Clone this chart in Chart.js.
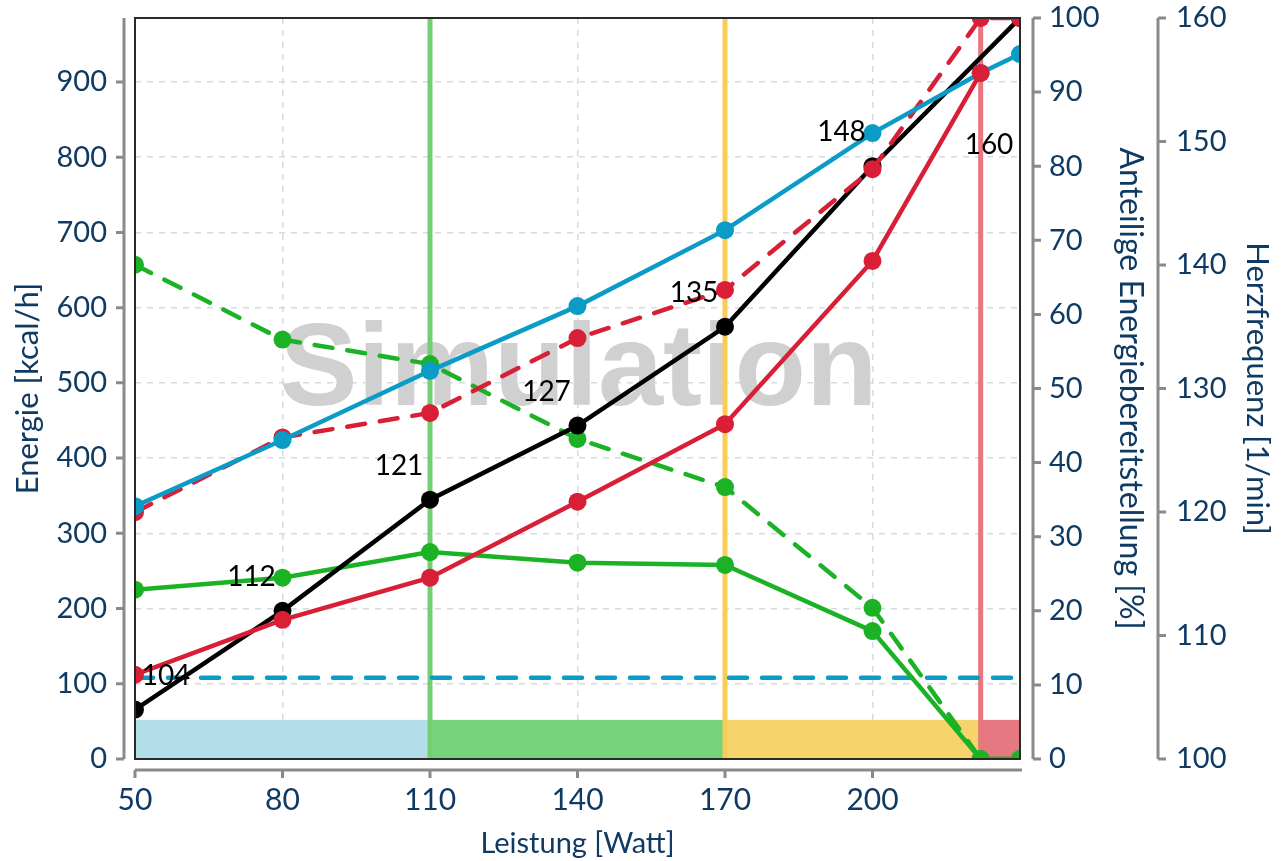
<!DOCTYPE html>
<html>
<head>
<meta charset="utf-8">
<script src="https://cdn.jsdelivr.net/npm/chart.js@4.4.1/dist/chart.umd.min.js"></script>
<style>
html, body { margin: 0; padding: 0; background: #fff; }
#wrap { width: 1282px; height: 861px; }
</style>
</head>
<body>
<div id="wrap"><canvas id="myChart"></canvas></div>
<script>
// Leistung in Watt
const power = [50, 80, 110, 140, 170, 200, 222, 230];
// kcal/h
const energyTotal = [336, 424, 516, 602, 703, 832, 912, 937];
const energyCarb = [112, 185, 241, 342, 445, 662, 912, null];
const energyFat = [225, 241, 275, 261, 258, 170, 0, 0];
// Anteil in %
const shareCarb = [33.3, 43.4, 46.7, 56.8, 63.3, 79.6, 100, 100];
const shareFat = [66.7, 56.6, 53.3, 43.2, 36.7, 20.4, 0, 0];
// Herzfrequenz 1/min
const heartRate = [104, 112, 121, 127, 135, 148, null, 160];
const restEnergy = 108;

// Zonen
const zoneStart = [50, 110, 170, 222];
const zoneEnd = [110, 170, 222, 230];
const zoneColors = ['#b2dfea', '#76d37c', '#f7d46b', '#e67882'];
const zoneLines = [110, 170, 222];
const zoneLineColors = ['#72cf72', '#f9cd55', '#e8777f'];
const zoneBand = 52;

const xTicks = [50, 80, 110, 140, 170, 200];
const energyTicks = [0, 100, 200, 300, 400, 500, 600, 700, 800, 900];
const shareTicks = [0, 10, 20, 30, 40, 50, 60, 70, 80, 90, 100];
const hrTicks = [100, 110, 120, 130, 140, 150, 160];

const navy = '#0f3a63';
const cyan = '#0a9bc7';
const red = '#d81f36';
const green = '#1bb226';
const axisGray = '#8a8a8a';

function pts(ys) {
    return power.map((x, i) => ({ x: x, y: ys[i] })).filter(p => p.y !== null);
}

function setTicks(list) {
    return function (scale) {
        scale.ticks = list.map(v => ({ value: v }));
    };
}

// fixed box sizes, no extra label padding around the plot
function fixWidth(w) {
    return function (s) {
        s.width = w;
        s.paddingTop = 0;
        s.paddingBottom = 0;
    };
}

const zonesPlugin = {
    id: 'zones',
    beforeDatasetsDraw(chart) {
        const { ctx, chartArea: a, scales: { x, y } } = chart;
        ctx.save();
        ctx.beginPath();
        ctx.rect(a.left, a.top, a.right - a.left, a.bottom - a.top);
        ctx.clip();

        // watermark
        ctx.font = 'bold 117px "Liberation Sans", Arial, sans-serif';
        ctx.fillStyle = '#d0d0d0';
        ctx.textAlign = 'center';
        ctx.textBaseline = 'alphabetic';
        ctx.fillText('Simulation', (a.left + a.right) / 2 + 1, a.top + 387);

        // zone bands at the bottom
        const top = y.getPixelForValue(zoneBand);
        zoneStart.forEach((s, i) => {
            const x0 = x.getPixelForValue(s);
            const x1 = x.getPixelForValue(zoneEnd[i]);
            ctx.fillStyle = zoneColors[i];
            ctx.fillRect(x0, top, x1 - x0, a.bottom - top);
        });

        // zone lines
        ctx.lineWidth = 5;
        zoneLines.forEach((v, i) => {
            const px = x.getPixelForValue(v);
            ctx.strokeStyle = zoneLineColors[i];
            ctx.beginPath();
            ctx.moveTo(px, a.top);
            ctx.lineTo(px, a.bottom);
            ctx.stroke();
        });
        ctx.restore();
    },
    afterDatasetsDraw(chart) {
        const { ctx, chartArea: a } = chart;
        ctx.save();
        // heart rate labels
        const meta = chart.getDatasetMeta(3);
        const vals = heartRate.filter(v => v !== null);
        ctx.font = '28px Lato';
        ctx.fillStyle = '#000';
        ctx.textAlign = 'center';
        ctx.textBaseline = 'middle';
        meta.data.forEach((pt, i) => {
            let lx = pt.x - 31;
            let ly = pt.y - 34;
            if (lx - 20 < a.left) lx = pt.x + 31;
            if (ly - 10 < a.top) ly = pt.y + 127;
            ctx.fillText(String(vals[i]), lx, ly);
        });

        // frame
        ctx.strokeStyle = '#2a2a2a';
        ctx.lineWidth = 2;
        ctx.strokeRect(a.left, a.top, a.right - a.left, a.bottom - a.top);
        ctx.restore();
    },
    afterDraw(chart) {
        const { ctx, chartArea: a, scales } = chart;
        ctx.save();
        ctx.strokeStyle = axisGray;
        ctx.lineWidth = 3;
        ctx.lineCap = 'butt';

        function vAxis(px, scale, list, dir) {
            ctx.beginPath();
            ctx.moveTo(px, a.top);
            ctx.lineTo(px, a.bottom);
            list.forEach(v => {
                const py = scale.getPixelForValue(v);
                ctx.moveTo(px, py);
                ctx.lineTo(px + dir * 8, py);
            });
            ctx.stroke();
        }
        vAxis(a.left - 11, scales.y, energyTicks, -1);
        vAxis(a.right + 13, scales.y1, shareTicks, 1);
        vAxis(scales.y2.left, scales.y2, hrTicks, 1);

        const py = a.bottom + 11;
        ctx.beginPath();
        ctx.moveTo(a.left, py);
        ctx.lineTo(a.right + 2, py);
        xTicks.forEach(v => {
            const px = scales.x.getPixelForValue(v);
            ctx.moveTo(px, py);
            ctx.lineTo(px, py + 8);
        });
        ctx.stroke();
        ctx.restore();
    }
};

function lineSet(label, data, color, axis, dashed) {
    return {
        label: label,
        data: data,
        yAxisID: axis,
        borderColor: color,
        backgroundColor: color,
        borderWidth: 4.5,
        borderDash: dashed ? [18, 15] : [],
        borderCapStyle: dashed ? 'round' : 'butt',
        pointRadius: 9,
        pointHoverRadius: 9,
        pointBorderWidth: 0,
        pointBackgroundColor: color,
        tension: 0,
        clip: 0
    };
}

const restSet = lineSet('Ruheumsatz', [{ x: 50, y: restEnergy }, { x: 230, y: restEnergy }], cyan, 'y', true);
restSet.pointRadius = 0;
restSet.pointHoverRadius = 0;

const data = {
    datasets: [
        lineSet('KH kcal/h', pts(energyCarb), red, 'y', false),
        lineSet('Gesamt kcal/h', pts(energyTotal), cyan, 'y', false),
        lineSet('KH %', pts(shareCarb), red, 'y1', true),
        lineSet('Herzfrequenz', pts(heartRate), '#000000', 'y2', false),
        lineSet('Fett kcal/h', pts(energyFat), green, 'y', false),
        lineSet('Fett %', pts(shareFat), green, 'y1', true),
        restSet
    ]
};

const tickFont = { family: 'Lato', size: 29 };
const titleFont = { family: 'Lato', size: 31 };

const config = {
    type: 'line',
    data: data,
    options: {
        responsive: true,
        maintainAspectRatio: false,
        animation: false,
        layout: { padding: { top: 18, left: 0, right: 0, bottom: 0 } },
        plugins: {
            legend: { display: false },
            tooltip: { enabled: false }
        },
        scales: {
            x: {
                type: 'linear',
                position: 'bottom',
                min: 50,
                max: 230,
                afterBuildTicks: setTicks(xTicks),
                afterFit(s) { s.height = 102; s.paddingLeft = 0; s.paddingRight = 0; },
                ticks: { font: { family: 'Lato', size: 30 }, color: navy, padding: 23, maxRotation: 0 },
                grid: { color: '#d3dbe3', lineWidth: 1.5, drawTicks: false },
                border: { display: false, dash: [6, 6] },
                title: { display: true, text: 'Leistung [Watt]', color: navy, font: { family: 'Lato', size: 29 }, padding: { top: 0, bottom: 0 } }
            },
            y: {
                type: 'linear',
                position: 'left',
                min: 0,
                max: 985,
                afterBuildTicks: setTicks(energyTicks),
                afterFit: fixWidth(135),
                ticks: { font: tickFont, color: navy, padding: 28 },
                grid: { color: '#d3dbe3', lineWidth: 1.5, drawTicks: false },
                border: { display: false, dash: [6, 6] },
                title: { display: true, text: 'Energie [kcal/h]', color: navy, font: titleFont, padding: { top: 9, bottom: 0 } }
            },
            y1: {
                type: 'linear',
                position: 'right',
                min: 0,
                max: 100,
                afterBuildTicks: setTicks(shareTicks),
                afterFit: fixWidth(138),
                ticks: { font: tickFont, color: navy, padding: 29 },
                grid: { display: false, drawTicks: false },
                border: { display: false },
                title: { display: true, text: 'Anteilige Energiebereitstellung [%]', color: navy, font: { family: 'Lato', size: 32 }, padding: { top: 8, bottom: 0 } }
            },
            y2: {
                type: 'linear',
                position: 'right',
                min: 100,
                max: 160,
                afterBuildTicks: setTicks(hrTicks),
                afterFit: fixWidth(124),
                ticks: { font: tickFont, color: navy, padding: 18 },
                grid: { display: false, drawTicks: false },
                border: { display: false },
                title: { display: true, text: 'Herzfrequenz [1/min]', color: navy, font: titleFont, padding: { top: 6, bottom: 0 } }
            }
        }
    },
    plugins: [zonesPlugin]
};

const myChart = new Chart(document.getElementById('myChart'), config);
</script>
</body>
</html>
